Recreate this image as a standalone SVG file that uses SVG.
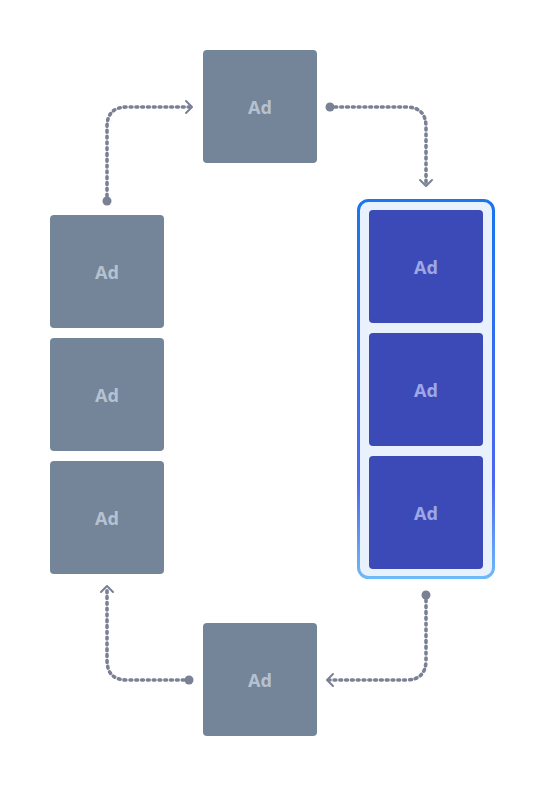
<svg xmlns="http://www.w3.org/2000/svg" width="544" height="787" viewBox="0 0 544 787">
<style>
.ad{fill:#748499}
.adb{fill:#3c4ab8}
.t{font-family:"Noto Sans","Liberation Sans",sans-serif;font-weight:bold;font-size:18px;text-anchor:middle;dominant-baseline:central}
.tg{fill:#b6c1d0}
.tb{fill:#9da7e6}
.c{fill:none;stroke:#7a8194;stroke-width:3.6;stroke-linecap:round;stroke-dasharray:1.8 4}
.dot{fill:#7a8194}
.ah{fill:none;stroke:#7a8194;stroke-width:2;stroke-linecap:round;stroke-linejoin:round}
</style>
<defs>
<linearGradient id="bg" x1="0" y1="0" x2="0" y2="1">
<stop offset="0" stop-color="#1976ee"/>
<stop offset="0.75" stop-color="#4d66f0"/>
<stop offset="1" stop-color="#6cbaf7"/>
</linearGradient>
</defs>
<rect width="544" height="787" fill="#ffffff"/>
<g id="container">
<rect x="358.5" y="200.5" width="135" height="377" rx="10" fill="#e9f2fc" stroke="url(#bg)" stroke-width="3"/>
</g>
<g id="top"><rect class="ad" x="203" y="50" width="114" height="113" rx="4"/><text class="t tg" x="260" y="107">Ad</text></g>
<g id="left1"><rect class="ad" x="50" y="215" width="114" height="113" rx="4"/><text class="t tg" x="107" y="272">Ad</text></g>
<g id="left2"><rect class="ad" x="50" y="338" width="114" height="113" rx="4"/><text class="t tg" x="107" y="395">Ad</text></g>
<g id="left3"><rect class="ad" x="50" y="461" width="114" height="113" rx="4"/><text class="t tg" x="107" y="518">Ad</text></g>
<g id="right1"><rect class="adb" x="369" y="210" width="114" height="113" rx="4"/><text class="t tb" x="426" y="267">Ad</text></g>
<g id="right2"><rect class="adb" x="369" y="333" width="114" height="113" rx="4"/><text class="t tb" x="426" y="390">Ad</text></g>
<g id="right3"><rect class="adb" x="369" y="456" width="114" height="113" rx="4"/><text class="t tb" x="426" y="513">Ad</text></g>
<g id="bottom"><rect class="ad" x="203" y="623" width="114" height="113" rx="4"/><text class="t tg" x="260" y="680">Ad</text></g>
<g id="connectors">
<path class="c" d="M107 196 V127 Q107 107 127 107 H190"/>
<circle class="dot" cx="107" cy="201" r="4.5"/>
<polyline class="ah" points="186,101 192,107 186,113"/>
<path class="c" d="M335 107 H406 Q426 107 426 127 V184"/>
<circle class="dot" cx="330" cy="107" r="4.5"/>
<polyline class="ah" points="420,180 426,186 432,180"/>
<path class="c" d="M426 600 V660 Q426 680 406 680 H329"/>
<circle class="dot" cx="426" cy="595" r="4.5"/>
<polyline class="ah" points="333,674 327,680 333,686"/>
<path class="c" d="M184 680 H127 Q107 680 107 660 V588"/>
<circle class="dot" cx="189" cy="680" r="4.5"/>
<polyline class="ah" points="101,592 107,586 113,592"/>
</g>
</svg>
